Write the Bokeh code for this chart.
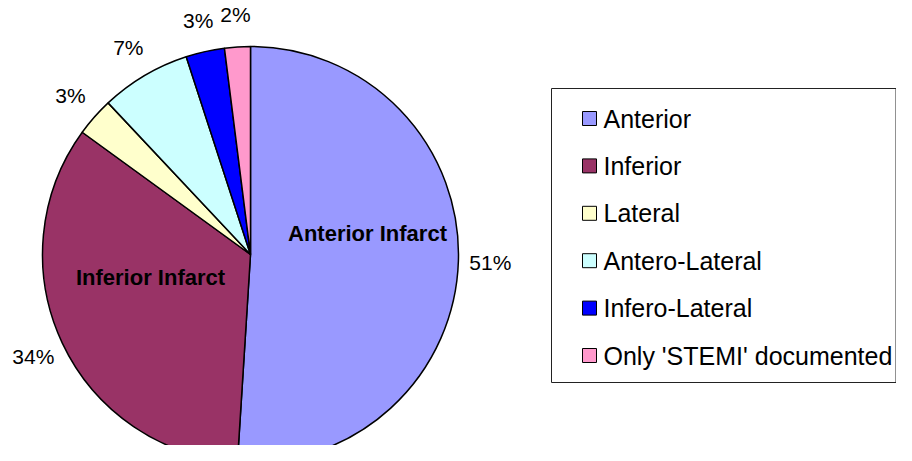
import numpy as np
from bokeh.plotting import figure
from bokeh.models import Range1d, ColumnDataSource
from bokeh.embed import file_html
from bokeh.resources import INLINE
from bokeh.core.properties import value

# ---- data ----
categories = ["Anterior", "Inferior", "Lateral", "Antero-Lateral",
              "Infero-Lateral", "Only 'STEMI' documented"]
shares = [51, 34, 3, 7, 3, 2]
colors = ["#9999FF", "#993366", "#FFFFCC", "#CCFFFF", "#0000FF", "#FF99CC"]
pct_labels = ["51%", "34%", "3%", "7%", "3%", "2%"]
inner_labels = ["Anterior Infarct", "Inferior Infarct"]

FONT = value("Liberation Sans")
W, H = 896, 445


def fx(px):
    return px


def fy(py):
    return H - py


p = figure(width=W, height=H, x_range=Range1d(0, W), y_range=Range1d(0, H),
           output_backend="svg", toolbar_location=None, min_border=0)
p.axis.visible = False
p.grid.visible = False
p.outline_line_color = None
p.background_fill_color = "white"
p.border_fill_color = "white"

# ---- pie ----
frac = np.array(shares, dtype=float) / sum(shares)
cum = np.concatenate([[0.0], np.cumsum(frac)])
start = np.pi / 2 - 2 * np.pi * cum[:-1]
end = np.pi / 2 - 2 * np.pi * cum[1:]
cx, cy, r = fx(250), fy(254), 208
src = ColumnDataSource(dict(start=start, end=end, color=colors))
p.wedge(x=cx, y=cy, radius=r, start_angle="start", end_angle="end",
        direction="clock", fill_color="color", line_color="black",
        line_width=1.5, source=src)

# ---- percentage labels ----
theta = 2 * np.pi * (cum[:-1] + cum[1:]) / 2
R = 240
lx = cx + R * np.sin(theta)
ly = cy + R * np.cos(theta)
p.text(x=lx, y=ly, text=pct_labels, text_font=FONT, text_font_size="21px",
       text_align="center", text_baseline="middle", text_color="black")

# ---- inner labels ----
p.text(x=[fx(367), fx(150)], y=[fy(233), fy(277)], text=inner_labels,
       text_font=FONT, text_font_size="22px", text_font_style="bold",
       text_align="center", text_baseline="middle", text_color="black")

# ---- legend ----
p.quad(left=[fx(551)], right=[W - 0.5], top=[fy(88)], bottom=[fy(382)],
       fill_color="white", line_color="#222222", line_width=1)
n = len(categories)
leg_y = [fy(118 + i * 47.4) for i in range(n)]
p.rect(x=[fx(589)] * n, y=leg_y, width=14, height=14, fill_color=colors,
       line_color="black", line_width=1)
p.text(x=[fx(603)] * n, y=leg_y, text=categories, text_font=FONT,
       text_font_size="25px", text_align="left", text_baseline="middle",
       text_color="black")

open("out.html", "w").write(file_html(p, INLINE))
